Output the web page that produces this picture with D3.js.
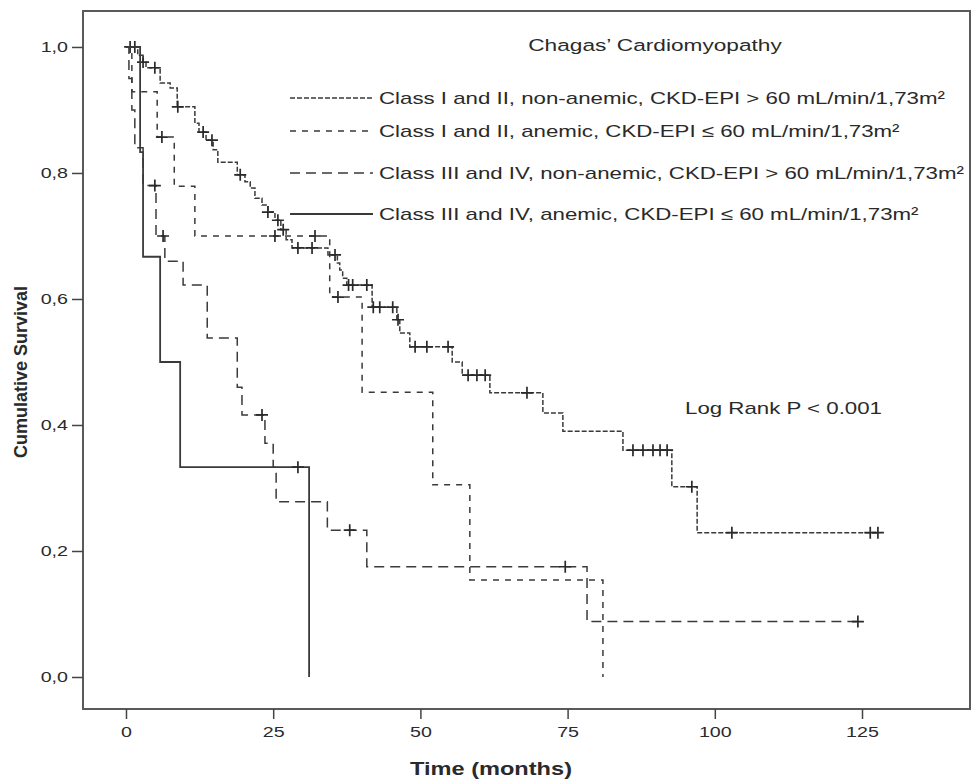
<!DOCTYPE html>
<html>
<head>
<meta charset="utf-8">
<script src="https://cdn.jsdelivr.net/npm/d3@7"></script>
<style>
  body { margin: 0; background: #fff; }
  svg text { font-family: "Liberation Sans", Arial, sans-serif; fill: #2a2a2a; }
</style>
</head>
<body>
<div id="chart"></div>
<script>
// ---- data ----
const legendLabels = [
  "Class I and II, non-anemic, CKD-EPI > 60 mL/min/1,73m²",
  "Class I and II, anemic, CKD-EPI ≤ 60 mL/min/1,73m²",
  "Class III and IV, non-anemic, CKD-EPI > 60 mL/min/1,73m²",
  "Class III and IV, anemic, CKD-EPI ≤ 60 mL/min/1,73m²"
]
const xTicks = [0, 25, 50, 75, 100, 125]
const yTicks = [0, 0.2, 0.4, 0.6, 0.8, 1.0]

// class I/II non-anemic
const timesA = [0, 2.0, 2.9, 3.4, 5.8, 7.5, 8.7, 11.7, 12.4, 13.6, 14.8, 15.6, 18.9, 20.2, 21.1, 21.9, 23.1, 24.1, 25.3, 26.3, 27.2, 28.2, 34.3, 35.9, 36.3, 36.8, 37.5, 41.8, 46.0, 46.5, 48.2, 55.4, 57.1, 61.8, 70.8, 74.2, 84.4, 92.7, 97.0]
const survA = [1, 0.987, 0.976, 0.967, 0.943, 0.935, 0.905, 0.879, 0.865, 0.852, 0.837, 0.817, 0.797, 0.786, 0.776, 0.760, 0.749, 0.738, 0.725, 0.710, 0.694, 0.681, 0.670, 0.657, 0.646, 0.633, 0.622, 0.587, 0.567, 0.546, 0.524, 0.500, 0.479, 0.451, 0.419, 0.390, 0.360, 0.302, 0.229]
const censorA = [0.7, 1.5, 2.9, 4.9, 8.8, 13.1, 14.6, 19.4, 24.1, 25.8, 26.7, 29.2, 31.6, 35.5, 37.8, 38.5, 40.9, 42.0, 43.1, 45.3, 46.2, 49.1, 51.1, 54.7, 58.1, 59.6, 61.0, 68.1, 86.1, 87.8, 89.5, 90.7, 91.9, 96.1, 102.9, 126.4, 127.7]

// class I/II anemic
const timesB = [0, 1.0, 5.3, 8.2, 11.7, 34.6, 40.1, 52.1, 58.4, 81.0]
const survB = [1, 0.929, 0.857, 0.779, 0.700, 0.603, 0.452, 0.305, 0.154, 0.0]
const censorB = [6.1, 25.3, 32.1, 36.0]

// class III/IV non-anemic
const timesC = [0, 0.5, 1.0, 1.5, 2.9, 5.1, 6.6, 9.7, 13.8, 18.9, 19.7, 23.6, 25.0, 25.5, 34.2, 40.9, 78.3]
const survC = [1, 0.95, 0.90, 0.84, 0.78, 0.70, 0.66, 0.622, 0.538, 0.46, 0.416, 0.371, 0.333, 0.278, 0.233, 0.175, 0.088]
const censorC = [4.9, 6.3, 23.1, 38.0, 74.6, 124.3]

// class III/IV anemic
const timesD = [0, 2.4, 2.9, 5.8, 9.2, 31.1]
const survD = [1, 0.833, 0.667, 0.5, 0.333, 0]
const censorD = [29.2]

// ---- drawing ----
const width = 972
const height = 784
const frame = { left: 83, right: 970, top: 11, bottom: 709 }
// the original figure is stretched sideways, so text gets a horizontal scale
const stretch = 1.31

const svg = d3.select('#chart')
  .append('svg')
  .attr('width', width)
  .attr('height', height)

const xScale = d3.scaleLinear()
  .domain([-7.3, 143.34])
  .range([frame.left, frame.right])

const yScale = d3.scaleLinear()
  .domain([-0.0508, 1.0571])
  .range([frame.bottom, frame.top])

// step value at time t
const survAt = (times, surv, t) => {
  let v = surv[0]
  times.forEach((tt, i) => { if (tt <= t) v = surv[i] })
  return v
}

const series = [
  { times: timesA, surv: survA, censor: censorA, dash: '5,2', w: 1.5 },
  { times: timesB, surv: survB, censor: censorB, dash: '6,6', w: 1.5 },
  { times: timesC, surv: survC, censor: censorC, dash: '10,6', w: 1.5 },
  { times: timesD, surv: survD, censor: censorD, dash: null, w: 1.8 }
]

const line = d3.line()
  .x(d => xScale(d[0]))
  .y(d => yScale(d[1]))
  .curve(d3.curveStepAfter)

series.forEach(s => {
  const pts = s.times.map((t, i) => [t, s.surv[i]])
  const lastCensor = d3.max(s.censor)
  const lastTime = s.times[s.times.length - 1]
  if (lastCensor > lastTime) pts.push([lastCensor, s.surv[s.surv.length - 1]])

  svg.append('path')
    .datum(pts)
    .attr('d', line)
    .attr('fill', 'none')
    .attr('stroke', '#3a3a3a')
    .attr('stroke-width', s.w)
    .attr('stroke-dasharray', s.dash)

  // censor marks
  svg.append('g')
    .selectAll('path')
    .data(s.censor)
    .join('path')
    .attr('d', t => {
      const cx = xScale(t), cy = yScale(survAt(s.times, s.surv, t))
      return `M${cx - 6},${cy}H${cx + 6}M${cx},${cy - 6}V${cy + 6}`
    })
    .attr('stroke', '#2a2a2a')
    .attr('stroke-width', 1.7)
})

// frame
svg.append('rect')
  .attr('x', frame.left)
  .attr('y', frame.top)
  .attr('width', frame.right - frame.left)
  .attr('height', frame.bottom - frame.top)
  .attr('fill', 'none')
  .attr('stroke', '#5a5a5a')
  .attr('stroke-width', 2)

// axes
const xAxis = d3.axisBottom(xScale)
  .tickValues(xTicks)
  .tickSize(10)
  .tickSizeOuter(0)
  .tickPadding(7)

const xAxisGroup = svg.append('g')
  .attr('transform', `translate(0, ${frame.bottom})`)
  .call(xAxis)
xAxisGroup.select('.domain').remove()
xAxisGroup.selectAll('line').attr('stroke', '#444').attr('stroke-width', 1.5)
xAxisGroup.selectAll('text')
  .attr('font-size', 15)
  .attr('fill', '#333')
  .attr('transform', `scale(${stretch},1)`)

const yAxis = d3.axisLeft(yScale)
  .tickValues(yTicks)
  .tickSize(11)
  .tickSizeOuter(0)
  .tickPadding(4)
  .tickFormat(d => d3.format('.1f')(d).replace('.', ','))

const yAxisGroup = svg.append('g')
  .attr('transform', `translate(${frame.left}, 0)`)
  .call(yAxis)
yAxisGroup.select('.domain').remove()
yAxisGroup.selectAll('line').attr('stroke', '#444').attr('stroke-width', 1.5)
yAxisGroup.selectAll('text')
  .attr('font-size', 15)
  .attr('fill', '#333')
  .attr('x', -15 / stretch)
  .attr('transform', `scale(${stretch},1)`)

// text with the sideways stretch
const addText = (x, y, str, size, opts = {}) => svg.append('text')
  .attr('transform', `translate(${x}, ${y}) scale(${stretch},1)`)
  .attr('text-anchor', opts.anchor || 'start')
  .attr('font-size', size)
  .attr('font-weight', opts.bold ? 'bold' : null)
  .text(str)

// axis titles
addText(491, 775, 'Time (months)', 18, { anchor: 'middle', bold: true })

svg.append('text')
  .attr('transform', `translate(27, 372) rotate(-90)`)
  .attr('text-anchor', 'middle')
  .attr('font-size', 18)
  .attr('font-weight', 'bold')
  .text('Cumulative Survival')

// legend
addText(655, 51, 'Chagas’ Cardiomyopathy', 17.3, { anchor: 'middle' })

const legendY = [98, 131, 173, 214]
legendLabels.forEach((label, i) => {
  svg.append('line')
    .attr('x1', 290).attr('x2', 373)
    .attr('y1', legendY[i]).attr('y2', legendY[i])
    .attr('stroke', '#3a3a3a')
    .attr('stroke-width', series[i].w)
    .attr('stroke-dasharray', series[i].dash)
  addText(379, legendY[i] + 6, label, 17)
})

addText(685, 414, 'Log Rank P < 0.001', 17)
</script>
</body>
</html>
